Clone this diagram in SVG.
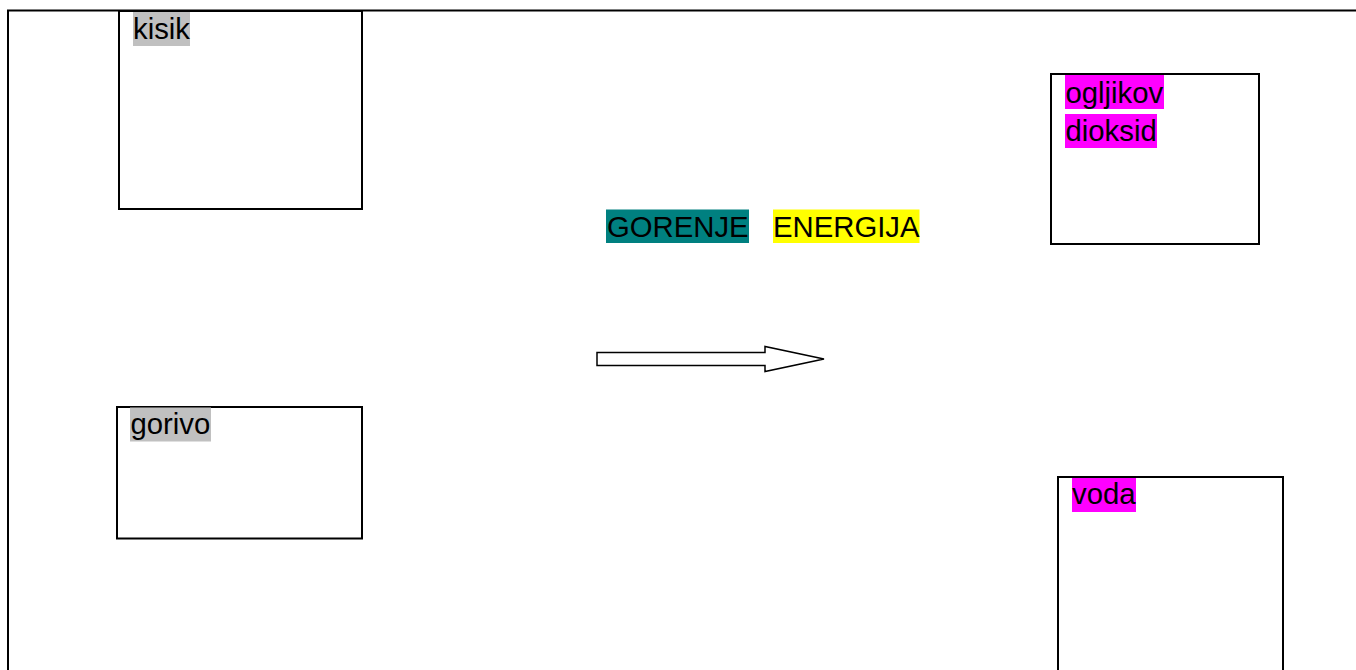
<svg xmlns="http://www.w3.org/2000/svg" width="1356" height="670" viewBox="0 0 1356 670">
<style>
.box{fill:#fff;stroke:#000;stroke-width:2}
.lbl{font-family:"Liberation Sans",Arial,sans-serif;font-size:29.3px;fill:#000}
.gray{fill:#c0c0c0}
.mag{fill:#ff00ff}
</style>
<rect width="1356" height="670" fill="#fff"/>
<g id="frame">
<path d="M8 670 V10.5 H1356" fill="none" stroke="#000" stroke-width="2"/>
</g>
<g id="kisik">
<rect class="box" x="119" y="11" width="243" height="198"/>
<rect class="gray" x="133" y="12" width="57" height="34"/>
<text class="lbl" x="133" y="38.5">kisik</text>
</g>
<g id="gorivo">
<rect class="box" x="117" y="407" width="245" height="131.5"/>
<rect class="gray" x="130" y="407.5" width="81" height="34"/>
<text class="lbl" x="130.5" y="434">gorivo</text>
</g>
<g id="ogljikov-dioksid">
<rect class="box" x="1051" y="74" width="208" height="170"/>
<rect class="mag" x="1065" y="75" width="99" height="34"/>
<rect class="mag" x="1065" y="114" width="92" height="34"/>
<text class="lbl" x="1065.5" y="102.5">ogljikov</text>
<text class="lbl" x="1065.5" y="141">dioksid</text>
</g>
<g id="voda">
<rect class="box" x="1058" y="477" width="225" height="200"/>
<rect class="mag" x="1072" y="478" width="64" height="34"/>
<text class="lbl" x="1072" y="504">voda</text>
</g>
<g id="gorenje">
<rect x="606" y="209.5" width="143" height="33.5" fill="#008080"/>
<text class="lbl" x="607" y="236.5">GORENJE</text>
</g>
<g id="energija">
<rect x="773" y="209.5" width="146.5" height="33.5" fill="#ffff00"/>
<text class="lbl" x="773" y="236.5">ENERGIJA</text>
</g>
<g id="connectors">
<path d="M597 352.5 H765 V346.5 L824 359 L765 371.5 V365.5 H597 Z" fill="#fff" stroke="#000" stroke-width="1.5" stroke-linejoin="miter"/>
</g>
</svg>
